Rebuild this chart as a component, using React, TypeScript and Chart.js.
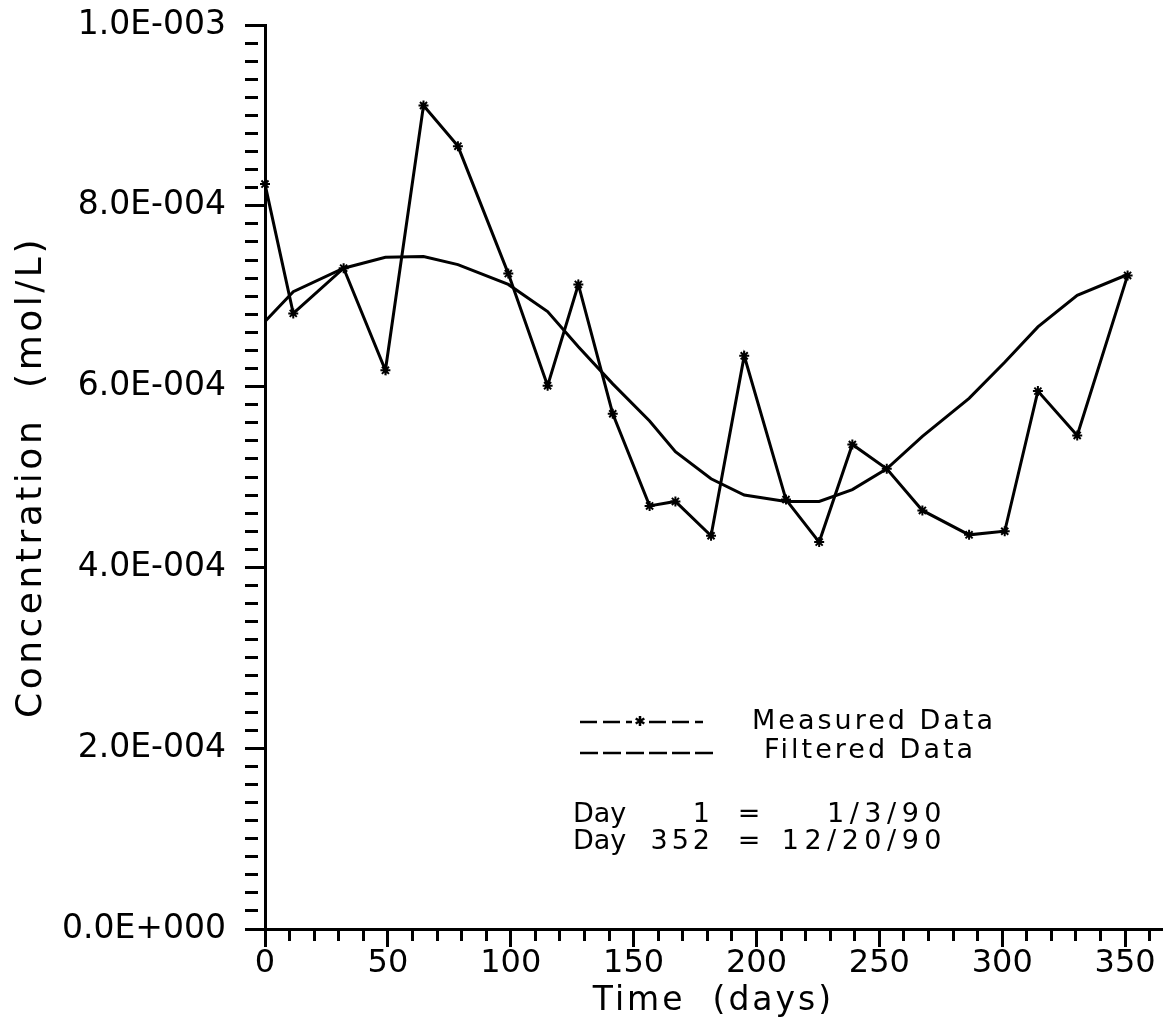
import React, { useEffect, useRef } from "react";
import { Chart, registerables } from "chart.js";

Chart.register(...registerables);

// ---- data ----
const days = [0, 11.5, 32, 49, 64.5, 78.5, 99, 115, 127.5, 141.5, 156.5, 167, 181.5, 195, 212, 225.5, 239, 253, 267.5, 286.5, 301, 314.5, 330.5, 351];
const measured = [8.24e-4, 6.81e-4, 7.31e-4, 6.18e-4, 9.11e-4, 8.66e-4, 7.25e-4, 6.01e-4, 7.13e-4, 5.70e-4, 4.68e-4, 4.73e-4, 4.35e-4, 6.34e-4, 4.75e-4, 4.28e-4, 5.36e-4, 5.09e-4, 4.63e-4, 4.36e-4, 4.40e-4, 5.95e-4, 5.46e-4, 7.23e-4];
const filtered = [6.72e-4, 7.05e-4, 7.31e-4, 7.43e-4, 7.44e-4, 7.35e-4, 7.13e-4, 6.83e-4, 6.44e-4, 6.03e-4, 5.62e-4, 5.28e-4, 4.98e-4, 4.80e-4, 4.73e-4, 4.73e-4, 4.86e-4, 5.09e-4, 5.45e-4, 5.87e-4, 6.27e-4, 6.66e-4, 7.01e-4, 7.24e-4];
const seriesNames = ["Measured Data", "Filtered Data"];
const noteLines = [
  ["Day", "1", "=", "1/3/90"],
  ["Day", "352", "=", "12/20/90"],
];
const xTitle = "Time  (days)";
const yTitle = "Concentration  (mol/L)";

const FONT = "DejaVu Sans";

function fmtSci(v: number): string {
  if (Math.abs(v) < 1e-12) return "0.0E+000";
  const e = Math.floor(Math.log10(Math.abs(v)) + 1e-9);
  const m = v / Math.pow(10, e);
  return `${m.toFixed(1)}E${e < 0 ? "-" : "+"}${String(Math.abs(e)).padStart(3, "0")}`;
}

const titleSpacingPlugin = {
  id: "titleSpacing",
  beforeDraw(chart: any) {
    for (const id of ["x", "y"]) {
      const s: any = chart.scales[id];
      if (s && !s.__patched) {
        const orig = s.drawTitle.bind(s);
        s.drawTitle = (...args: any[]) => {
          const c = chart.ctx;
          c.save();
          c.letterSpacing = id === "x" ? "3px" : "3.5px";
          orig(...args);
          c.restore();
        };
        s.__patched = true;
      }
    }
  },
};

function drawStar(ctx: CanvasRenderingContext2D, x: number, y: number, r: number) {
  ctx.beginPath();
  for (let k = 0; k < 3; k++) {
    const a = (Math.PI / 3) * k + Math.PI / 2;
    ctx.moveTo(x + r * Math.cos(a), y + r * Math.sin(a));
    ctx.lineTo(x - r * Math.cos(a), y - r * Math.sin(a));
  }
  ctx.stroke();
}

const notePlugin = {
  id: "notes",
  afterDraw(chart: any) {
    const ctx: CanvasRenderingContext2D = chart.ctx;
    ctx.save();
    ctx.strokeStyle = "#000";
    ctx.fillStyle = "#000";
    ctx.lineWidth = 2.5;
    // legend sample 1: dashed with star
    ctx.setLineDash([17, 6]);
    ctx.beginPath();
    ctx.moveTo(580, 722);
    ctx.lineTo(632, 722);
    ctx.moveTo(649, 722);
    ctx.lineTo(703, 722);
    ctx.stroke();
    ctx.setLineDash([]);
    drawStar(ctx, 640, 721, 5);
    // legend sample 2: dashed
    ctx.setLineDash([18, 5]);
    ctx.beginPath();
    ctx.moveTo(580, 753);
    ctx.lineTo(715, 753);
    ctx.stroke();
    ctx.setLineDash([]);

    ctx.font = `27px "${FONT}"`;
    ctx.textBaseline = "alphabetic";
    (ctx as any).letterSpacing = "3px";
    ctx.textAlign = "left";
    ctx.fillText(seriesNames[0], 752, 729);
    ctx.fillText(seriesNames[1], 764, 758);

    const bases = [822, 849];
    noteLines.forEach((ln, i) => {
      const y = bases[i];
      (ctx as any).letterSpacing = "0px";
      ctx.textAlign = "left";
      ctx.fillText(ln[0], 573, y);
      ctx.textAlign = "center";
      ctx.fillText(ln[2], 749, y);
      (ctx as any).letterSpacing = "4px";
      ctx.textAlign = "right";
      ctx.fillText(ln[1], 714, y);
      (ctx as any).letterSpacing = "5.5px";
      ctx.fillText(ln[3], 947, y);
    });
    ctx.restore();
  },
};

export default function App() {
  const ref = useRef<HTMLCanvasElement | null>(null);
  useEffect(() => {
    if (!ref.current) return;
    Chart.defaults.color = "#000";
    Chart.defaults.font.family = FONT;
    const chart = new Chart(ref.current, {
      type: "line",
      data: {
        datasets: [
          {
            label: seriesNames[0],
            data: days.map((d, i) => ({ x: d, y: measured[i] })),
            borderColor: "#000",
            borderWidth: 3,
            pointStyle: "star",
            pointRadius: 5,
            pointBorderWidth: 2,
            pointBorderColor: "#000",
            pointBackgroundColor: "#000",
            tension: 0,
            clip: false,
            order: 0,
          } as any,
          {
            label: seriesNames[1],
            data: days.map((d, i) => ({ x: d, y: filtered[i] })),
            borderColor: "#000",
            borderWidth: 3,
            pointRadius: 0,
            tension: 0,
            clip: false,
            order: 1,
          } as any,
        ],
      },
      options: {
        responsive: false,
        animation: false,
        devicePixelRatio: 1,
        layout: { padding: { left: 0, top: 25, right: 10, bottom: 0 } },
        plugins: {
          legend: { display: false },
          tooltip: { enabled: false },
        },
        scales: {
          x: {
            type: "linear",
            position: "bottom",
            min: 0,
            max: 365,
            afterFit: (s: any) => {
              s.height = 100;
              s.paddingLeft = 0;
              s.paddingRight = 0;
            },
            border: { display: true, color: "#000", width: 3 },
            grid: {
              display: true,
              drawOnChartArea: false,
              drawTicks: true,
              tickLength: 18,
              tickWidth: 3,
              tickColor: "#000",
              tickBorderDash: (c: any) =>
                Math.round(c.tick?.value ?? 0) % 50 === 0 ? [] : [10, 40],
            },
            ticks: {
              stepSize: 10,
              includeBounds: false,
              autoSkip: false,
              maxRotation: 0,
              padding: 1,
              color: "#000",
              font: { family: FONT, size: 32, lineHeight: 1 },
              callback: (v: any) => (Math.round(v) % 50 === 0 ? String(Math.round(v)) : ""),
            },
            title: {
              display: true,
              text: xTitle,
              color: "#000",
              font: { family: FONT, size: 33 },
              padding: { top: 0, bottom: 8 },
            },
          },
          y: {
            type: "linear",
            position: "left",
            min: 0,
            max: 1e-3,
            afterFit: (s: any) => {
              s.width = 265;
              s.paddingTop = 0;
              s.paddingBottom = 0;
            },
            border: { display: true, color: "#000", width: 3 },
            grid: {
              display: true,
              drawOnChartArea: false,
              drawTicks: true,
              tickLength: 20,
              tickWidth: 3,
              tickColor: "#000",
              tickBorderDash: (c: any) =>
                Math.round((c.tick?.value ?? 0) / 2e-5) % 10 === 0 ? [] : [13, 40],
            },
            ticks: {
              stepSize: 2e-5,
              autoSkip: false,
              padding: 19,
              color: "#000",
              font: { family: FONT, size: 33 },
              callback: (v: any) => {
                const k = Math.round(v / 2e-5);
                return k % 10 === 0 ? fmtSci(k * 2e-5) : "";
              },
            },
            title: {
              display: true,
              text: yTitle,
              color: "#000",
              font: { family: FONT, size: 36 },
              padding: { top: 10, bottom: 0 },
            },
          },
        },
      },
      plugins: [titleSpacingPlugin, notePlugin],
    } as any);
    return () => chart.destroy();
  }, []);
  return (
    <div style={{ position: "absolute", left: 0, top: 0, width: 1172, height: 1029, background: "#fff" }}>
      <canvas ref={ref} width={1172} height={1029} style={{ display: "block" }} />
    </div>
  );
}
